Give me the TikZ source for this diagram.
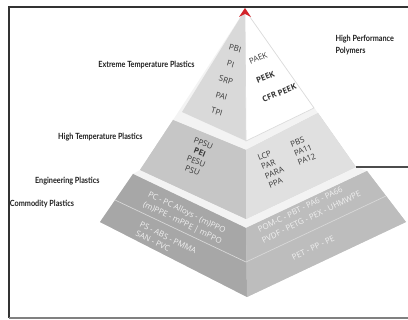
\documentclass[tikz,border=0pt]{standalone}
\usepackage{fontspec}
\setmainfont{Open Sans}
\newfontfamily\lblfont[FakeStretch=0.85]{Lato}

\definecolor{faceOneL}{HTML}{D9D9D9}
\definecolor{faceTwoL}{HTML}{C6C6C6}
\definecolor{faceTwoR}{HTML}{E0E0E0}
\definecolor{faceThrL}{HTML}{A7A7A7}
\definecolor{faceThrR}{HTML}{BDBDBD}
\definecolor{ledgeC}{HTML}{F3F3F3}
\definecolor{tipred}{HTML}{D2232A}

\tikzset{every picture/.style={line width=0.75pt}}
\tikzset{
  tierlbl/.style={font={\lblfont\bfseries\fontsize{6.4}{9}\selectfont}, text=black!88, inner sep=0pt},
  plast/.style={font={\fontsize{6}{7.3}\selectfont}, text=black!78, inner sep=0pt},
  plastwide/.style={font={\fontsize{6}{12.4}\selectfont}, text=black!78, inner sep=0pt},
  commod/.style={font={\fontsize{6}{7.5}\selectfont}, text=white!94!black, inner sep=0pt},
  ledge/.style={fill=ledgeC},
  shade/.style={fill=black!16}
}

\begin{document}
\begin{tikzpicture}[x=0.75pt,y=0.75pt,yscale=-1,xscale=1]
\useasboundingbox (0,0) rectangle (408,320);

% corners of the three tiers
\coordinate (apex) at (245,10);
\coordinate (t1l) at (182,112);
\coordinate (t1f) at (246,141);
\coordinate (t1r) at (314,108);
\coordinate (t2tl) at (173,120);
\coordinate (t2tf) at (246,150);
\coordinate (t2tr) at (318,113);
\coordinate (t2l) at (140,170);
\coordinate (t2f) at (246,219);
\coordinate (t2r) at (356,167);
\coordinate (t3tl) at (133,174);
\coordinate (t3tf) at (246,228);
\coordinate (t3tr) at (367,171);
\coordinate (t3l) at (100,222);
\coordinate (t3f) at (247,297);
\coordinate (t3r) at (406,222);
\coordinate (d3l) at (115,200);
\coordinate (d3f) at (246,262);
\coordinate (d3r) at (386,196);
\coordinate (lineend) at (408,167);

% frame
\draw [draw=black!80,line width=1pt] (408,7) -- (9,7) -- (9,318);
\draw [draw=black!50,line width=1.4pt] (9,318) -- (408,318);

% shadows
\fill [shade,xshift=1.5pt,yshift=-1.5pt] (apex) -- (t1r) -- (t1f) -- (t1l) -- cycle;
\fill [shade,xshift=1.5pt,yshift=-1.5pt] (t2tl) -- (t2tr) -- (t2r) -- (t2f) -- (t2l) -- cycle;
\fill [shade,xshift=1.5pt,yshift=-1.5pt] (t3tl) -- (t3tr) -- (t3r) -- (t3f) -- (t3l) -- cycle;

% ledges
\fill [ledge] (t2tl) -- (t2tf) -- (t2tr) -- (apex) -- cycle;
\fill [ledge] (t3tl) -- (t3tf) -- (t3tr) -- (t2r) -- (t2f) -- (t2l) -- cycle;

% tier faces
\draw [fill=faceOneL,draw=none] (apex) -- (t1f) -- (t1l) -- cycle;
\draw [fill=white,draw=black!14,line width=0.5pt] (apex) -- (t1r) -- (t1f) -- cycle;
\draw [fill=faceTwoL,draw=none] (t2tl) -- (t2tf) -- (t2f) -- (t2l) -- cycle;
\draw [fill=faceTwoR,draw=none] (t2tf) -- (t2tr) -- (t2r) -- (t2f) -- cycle;
\draw [fill=faceThrL,draw=none] (t3tl) -- (t3tf) -- (t3f) -- (t3l) -- cycle;
\draw [fill=faceThrR,draw=none] (t3tf) -- (t3tr) -- (t3r) -- (t3f) -- cycle;
\draw [draw=white!85!black,line width=0.5pt] (d3l) -- (d3f) -- (d3r);

% red tip
\fill [tipred] (239,17) -- (245,8) -- (251,17) -- (245,14) -- cycle;

% line to the right
\draw [draw=black!70,line width=0.8pt] (t2r) -- (lineend);

% tier names
\node [tierlbl,anchor=east] (extl) at (195,65) {Extreme Temperature Plastics};
\node [tierlbl,anchor=east] (hitl) at (143,137) {High Temperature Plastics};
\node [tierlbl,anchor=east] (engl) at (100,181) {Engineering Plastics};
\node [tierlbl,anchor=west] (coml) at (9.5,204) {Commodity Plastics};
\node [tierlbl,anchor=north west,align=left] (hpp) at (335,35) {High Performance\\Polymers};

% extreme temperature
\node [plastwide,rotate=-16,align=center] (xtl) at (226,80) {PBI\\PI\\SRP\\PAI\\TPI};
\node [plast,rotate=22,anchor=west] (paek) at (249,62) {PAEK};
\node [plast,rotate=22,anchor=west] (peek) at (256,81) {\bfseries PEEK};
\node [plast,rotate=22,anchor=west] (cfr) at (262,100) {\bfseries CFR PEEK};

% high temperature
\node [plast,rotate=-22,align=center] (htl) at (198,157) {PPSU\\\textbf{PEI}\\PESU\\PSU};
\node [plast,rotate=22,align=left,anchor=west] (htr1) at (263,172) {LCP\\PAR\\PARA\\PPA};
\node [plast,rotate=22,align=left,anchor=west] (htr2) at (294,154) {PBS\\PA11\\PA12};

% engineering and commodity
\node [commod,rotate=-26,anchor=west] (eng1) at (148,194) {PC - PC Alloys - (m)PPO};
\node [commod,rotate=-26,anchor=west] (eng2) at (143,204) {(m)PPE - mPPE | mPPO};
\node [commod,rotate=-26,anchor=west] (com1) at (140,224) {PS - ABS - PMMA};
\node [commod,rotate=-26,anchor=west] (com2) at (136,233) {SAN - PVC};
\node [commod,rotate=26,anchor=west] (eng3) at (258,230) {POM-C - PBT - PA6 - PA66};
\node [commod,rotate=26,anchor=west] (eng4) at (262,241) {PVDF - PETG - PEX - UHMWPE};
\node [commod,rotate=26,anchor=west] (com3) at (292,258) {PET - PP - PE};
\end{tikzpicture}
\end{document}
